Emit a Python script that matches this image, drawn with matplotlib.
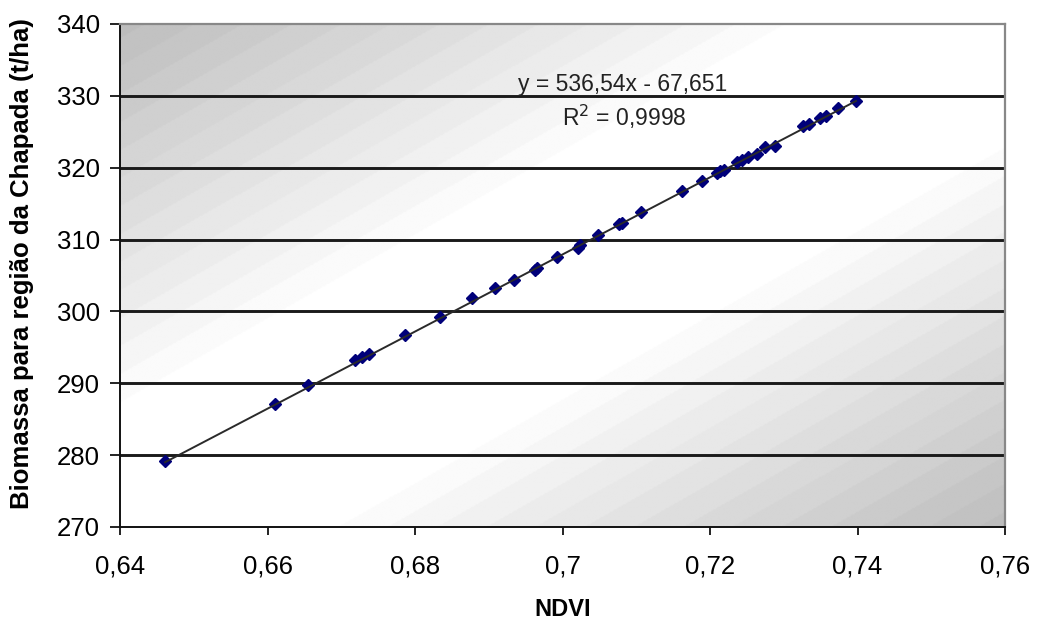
import numpy as np
import matplotlib
matplotlib.use("Agg")
import matplotlib.pyplot as plt

plt.rcParams['font.family'] = ['Liberation Sans', 'DejaVu Sans']

# NDVI vs biomass
ndvi = [0.6461, 0.6610, 0.6655, 0.6719, 0.6728, 0.6738, 0.6786, 0.6834, 0.6877,
        0.6908, 0.6934, 0.6963, 0.6965, 0.6993, 0.7021, 0.7024, 0.7048, 0.7077,
        0.7081, 0.7106, 0.7162, 0.7189, 0.7209, 0.7214, 0.7219, 0.7237, 0.7243,
        0.7252, 0.7264, 0.7275, 0.7288, 0.7326, 0.7334, 0.7349, 0.7357, 0.7374,
        0.7398]
biomassa = [279.2, 287.1, 289.8, 293.2, 293.7, 294.1, 296.7, 299.2, 301.9,
            303.3, 304.4, 305.8, 306.0, 307.6, 308.8, 309.2, 310.6, 312.2,
            312.3, 313.8, 316.8, 318.2, 319.3, 319.5, 319.7, 320.8, 321.1,
            321.5, 321.9, 322.9, 323.0, 325.8, 326.1, 326.9, 327.2, 328.3,
            329.3]

slope = 536.54
intercept = -67.651

x_ticks = [0.64, 0.66, 0.68, 0.70, 0.72, 0.74, 0.76]
x_labels = ['0,64', '0,66', '0,68', '0,7', '0,72', '0,74', '0,76']
y_ticks = [270, 280, 290, 300, 310, 320, 330, 340]

fig = plt.figure(figsize=(10.42, 6.21), dpi=100)
ax = fig.add_axes([0.1152, 0.1514, 0.8493, 0.8100])

# diagonal gray-white-gray background (excel style gradient)
u, v = np.meshgrid(np.linspace(0, 1, 600), np.linspace(1, 0, 400))
t = (u + (1 - v)) / 2
shade = np.clip((np.abs(t - 0.5) - 0.11) / 0.39, 0, 1)
shade = np.round(shade * 14) / 14
gray = 1 - 0.26 * shade
ax.imshow(gray, extent=[0, 1, 0, 1], transform=ax.transAxes, aspect='auto',
          cmap='gray', vmin=0, vmax=1, zorder=0, interpolation='bilinear')

ax.set_xlim(0.64, 0.76)
ax.set_ylim(270, 340)

for yv in y_ticks[1:-1]:
    ax.axhline(yv, color='#1a1a1a', lw=2.1, zorder=1)

ax.plot(ndvi, biomassa, linestyle='none', marker='D', markersize=6.5,
        color='#00007a', zorder=3)
xl = np.array([min(ndvi), max(ndvi)])
ax.plot(xl, slope * xl + intercept, color='#2a2a2a', lw=1.4, zorder=4)

ax.text(0.7081, 331.6, 'y = 536,54x - 67,651', ha='center', va='center',
        fontsize=16.5, color='#222222', zorder=5)
ax.text(0.7084, 327.0, 'R$^2$ = 0,9998', ha='center', va='center',
        fontsize=16.5, color='#222222', zorder=5)

ax.set_xticks(x_ticks)
ax.set_xticklabels(x_labels)
ax.set_yticks(y_ticks)
ax.tick_params(axis='y', labelsize=18.5, length=7.5, width=1.3, pad=7, color='#111111')
ax.tick_params(axis='x', labelsize=18.5, length=6, width=1.3, pad=14, color='#111111')

for s in ['left', 'bottom']:
    ax.spines[s].set_color('#111111')
    ax.spines[s].set_linewidth(1.4)
for s in ['top', 'right']:
    ax.spines[s].set_color('#888888')
    ax.spines[s].set_linewidth(1.6)

ax.set_xlabel('NDVI', fontsize=17, fontweight='bold', labelpad=14)
ax.set_ylabel('Biomassa para região da Chapada (t/ha)', fontsize=18.5,
              fontweight='bold')
ax.yaxis.set_label_coords(-0.097, 0.523)

fig.savefig('out.png', dpi=100)
